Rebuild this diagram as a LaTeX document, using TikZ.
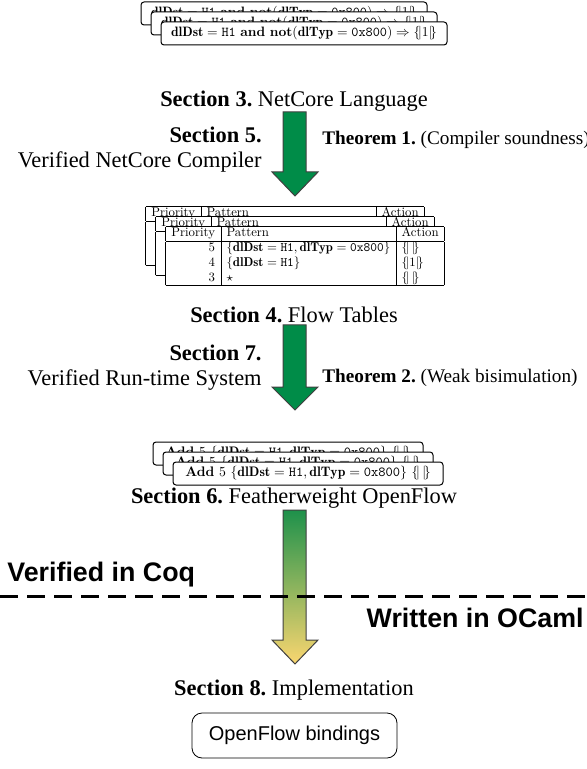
\documentclass[tikz,border=0pt]{standalone}
\usepackage{amsmath,amssymb,graphicx}
\usepackage{fontspec}
\newfontfamily\timesfont{Liberation Serif}
\newfontfamily\helvfont{Liberation Sans}
\usetikzlibrary{positioning}

\definecolor{proofgreen}{RGB}{0,140,72}
\definecolor{gradtop}{RGB}{30,145,75}
\definecolor{gradbot}{RGB}{250,214,112}

\newcommand{\banana}[1]{\{\!|#1|\!\}}
\newcommand{\rulebody}{\scalebox{0.68}{$\mathbf{dlDst}=\texttt{H1}$ \textbf{and} $\textbf{not}(\mathbf{dlTyp}=\texttt{0x800})\Rightarrow\banana{1}$}}
\newcommand{\addbody}{\scalebox{0.69}{\textbf{Add} $5$ $\{\mathbf{dlDst}=\texttt{H1},\mathbf{dlTyp}=\texttt{0x800}\}$ $\banana{\,}$}}
\newcommand{\flowtable}{\scalebox{0.64}{\setlength\tabcolsep{4.5pt}\renewcommand{\arraystretch}{0.95}%
\begin{tabular}{|r|l|l|}\hline
Priority & Pattern & Action\\\hline
5 & $\{\mathbf{dlDst}=\texttt{H1},\mathbf{dlTyp}=\texttt{0x800}\}$ & $\banana{\,}$\\
4 & $\{\mathbf{dlDst}=\texttt{H1}\}$ & $\banana{1}$\\
3 & $\star$ & $\banana{\,}$\\\hline
\end{tabular}}}

\begin{document}
\frenchspacing
\begin{tikzpicture}[x=0.5pt,y=-0.5pt,
  caption/.style={font=\timesfont\fontsize{11.2}{12.5}\selectfont, inner sep=0pt},
  theorem/.style={font=\timesfont\fontsize{9.6}{11}\selectfont, inner sep=0pt, anchor=west},
  rulebox/.style={draw, fill=white, rounded corners=1.5pt, line width=0.5pt,
    minimum width=143pt, minimum height=11.5pt, inner sep=0pt},
  tablebox/.style={fill=white, inner sep=0pt},
  coqlabel/.style={font=\helvfont\bfseries\fontsize{13.4}{16}\selectfont, inner sep=0pt},
  bindbox/.style={draw, rounded corners=5pt, minimum width=102.5pt, minimum height=22.5pt,
    font=\helvfont\fontsize{10}{12}\selectfont},
  bigarrow/.style={draw=black!75, line width=0.5pt}]

\useasboundingbox (0,0) rectangle (587,769);

% NetCore rules
\foreach \d/\n in {0/back,10/mid,20/front}
  \node[rulebox] (rule-\n) at (284+\d,13.5+\d) {\rulebody};
\node[caption] (sec3) at (294,101) {\textbf{Section 3.} NetCore Language};

% compiler
\fill[proofgreen] (283,112)--(306,112)--(306,172)--(318,172)--(295,196)--(272,172)--(283,172)--cycle;
\draw[bigarrow] (283,112)--(306,112)--(306,172)--(318,172)--(295,196)--(272,172)--(283,172)--cycle;
\node[caption, anchor=east, align=right] (sec5) at (262,150) {\textbf{Section 5.}\\Verified NetCore Compiler};
\node[theorem] (thm1) at (322,140) {\textbf{Theorem 1.} (Compiler soundness)};

% flow tables
\foreach \d/\n in {0/back,10/mid,20/front}
  \node[tablebox] (table-\n) at (285+\d,236+\d) {\flowtable};
\node[caption] (sec4) at (294,315) {\textbf{Section 4.} Flow Tables};

% run-time system
\fill[proofgreen] (283,325)--(306,325)--(306,387)--(318,387)--(295,410)--(272,387)--(283,387)--cycle;
\draw[bigarrow] (283,325)--(306,325)--(306,387)--(318,387)--(295,410)--(272,387)--(283,387)--cycle;
\node[caption, anchor=east, align=right] (sec7) at (262,367.5) {\textbf{Section 7.}\\Verified Run-time System};
\node[theorem] (thm2) at (322,378) {\textbf{Theorem 2.} (Weak bisimulation)};

% featherweight openflow
\foreach \d/\n in {0/back,10/mid,20/front}
  \node[rulebox, minimum width=135pt] (add-\n) at (288+\d,453.5+\d) {\addbody};
\node[caption] (sec6) at (294,498) {\textbf{Section 6.} Featherweight OpenFlow};

% extraction
\shade[top color=gradtop, bottom color=gradbot] (283,510)--(306,510)--(306,640)--(318,640)--(295,664)--(272,640)--(283,640)--cycle;
\draw[bigarrow] (283,510)--(306,510)--(306,640)--(318,640)--(295,664)--(272,640)--(283,640)--cycle;
\coordinate (cut-l) at (0,596);
\coordinate (cut-r) at (587,596);
\draw[line width=1.5pt, dash pattern=on 9pt off 4.5pt] (cut-l) -- (cut-r);
\node[coqlabel, anchor=west] (coq) at (7,575) {Verified in Coq};
\node[coqlabel, anchor=east] (ocaml) at (584,618) {Written in OCaml};

% implementation
\node[caption] (sec8) at (294,690) {\textbf{Section 8.} Implementation};
\node[bindbox] (bind) at (294.5,735.5) {OpenFlow bindings};

\end{tikzpicture}
\end{document}
